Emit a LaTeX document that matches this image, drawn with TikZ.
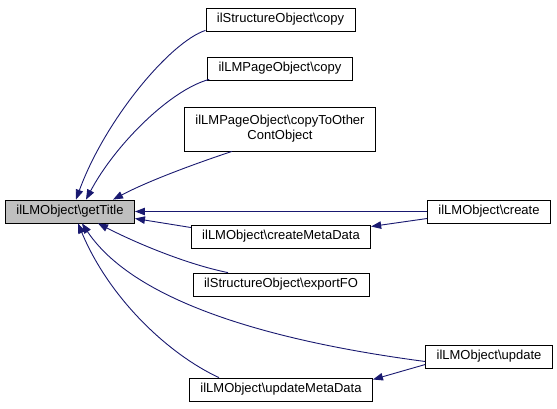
\documentclass[tikz,border=0pt]{standalone}
\usepackage{fontspec}
\setmainfont{Liberation Sans}
\usetikzlibrary{arrows.meta}
\definecolor{edgeblue}{HTML}{191970}
\definecolor{nodegray}{HTML}{BFBFBF}
\tikzset{
  fn/.style={draw=black, line width=0.8pt, fill=white, inner xsep=11pt, inner ysep=0pt,
    minimum height=23pt, align=center, font=\fontsize{13}{15}\selectfont},
  cur/.style={fn, fill=nodegray},
  edge/.style={draw=edgeblue, line width=0.9pt, {Triangle[length=10pt,width=7.5pt]}-}
}
\begin{document}
\begin{tikzpicture}[x=1pt,y=-1pt]
\useasboundingbox (0,0) rectangle (557,408);
\node[cur] (gt) at (70,211.5) {ilLMObject\textbackslash getTitle};
\node[fn] (sc) at (280.5,19.5) {ilStructureObject\textbackslash copy};
\node[fn] (lc) at (280,68.5) {ilLMPageObject\textbackslash copy};
\node[fn, minimum height=44pt, inner ysep=2pt] (cto) at (280,129) {ilLMPageObject\textbackslash copyToOther\\ContObject};
\node[fn] (cr) at (489,211.5) {ilLMObject\textbackslash create};
\node[fn] (cmd) at (281,236.5) {ilLMObject\textbackslash createMetaData};
\node[fn] (ef) at (281,284.5) {ilStructureObject\textbackslash exportFO};
\node[fn] (up) at (489,356.5) {ilLMObject\textbackslash update};
\node[fn] (umd) at (281,389.5) {ilLMObject\textbackslash updateMetaData};

\draw[edge] ([xshift=6pt]gt.north) .. controls (105,120) and (170,42) .. ([yshift=1pt]sc.south west);
\draw[edge] ([xshift=16pt]gt.north) .. controls (115,145) and (170,90) .. ([xshift=2pt,yshift=1pt]lc.south west);
\draw[edge] ([xshift=43pt]gt.north) .. controls (150,180) and (200,162) .. ([xshift=-48pt]cto.south);
\draw[edge] (gt.east) -- (cr.west);
\draw[edge] ([yshift=-7pt]gt.east) -- ([yshift=9pt]cmd.west);
\draw[edge] ([xshift=28pt]gt.south) .. controls (140,245) and (190,265) .. ([xshift=-53pt]ef.north);
\draw[edge] ([xshift=12pt]gt.south) .. controls (140,310) and (300,345) .. ([yshift=-5pt]up.west);
\draw[edge] ([xshift=8pt]gt.south) .. controls (110,300) and (170,355) .. ([xshift=-62pt]umd.north);
\draw[edge] ([yshift=10pt]cmd.east) -- ([yshift=-7pt]cr.west);
\draw[edge] ([yshift=10pt]umd.east) -- ([yshift=-8pt]up.west);
\end{tikzpicture}
\end{document}
